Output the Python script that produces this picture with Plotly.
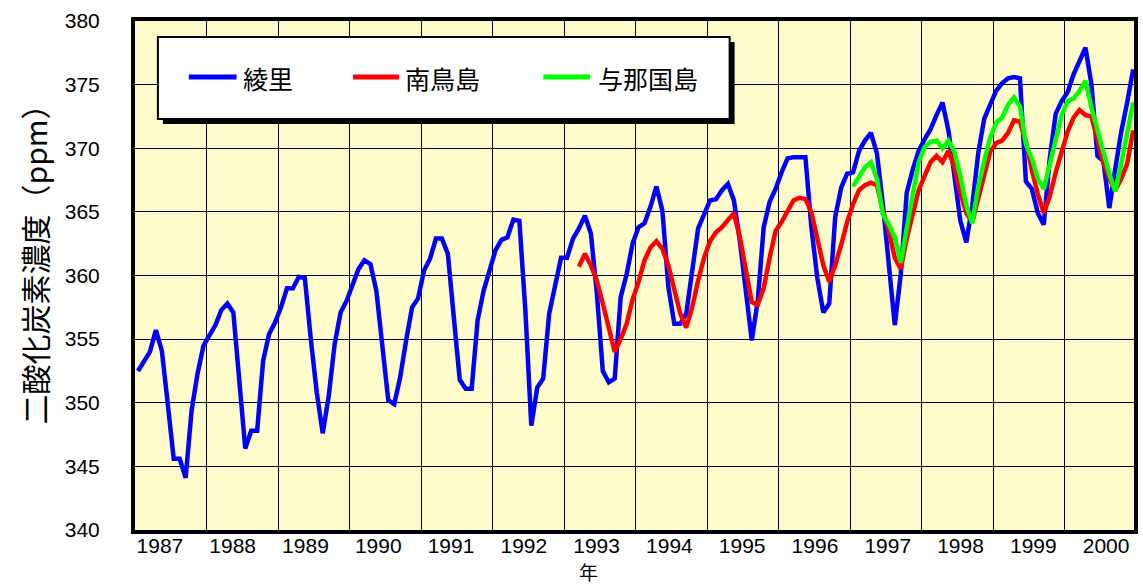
import plotly.graph_objects as go

# ---------------- data (monthly CO2, ppm) ----------------
years = list(range(1987, 2001))
year_labels = [str(y) for y in years]

ryori_start = (1987, 1)
ryori = [
    352.5, 353.2, 354.0, 355.7, 354.1, 349.9, 345.6, 345.6, 344.1, 349.4, 352.3, 354.5,  # 1987
    355.3, 356.1, 357.3, 357.8, 357.1, 351.8, 346.4, 347.8, 347.8, 353.3, 355.4, 356.3,  # 1988
    357.5, 359.0, 359.0, 359.9, 359.8, 355.0, 350.8, 347.6, 350.5, 354.6, 357.1, 358.0,  # 1989
    359.3, 360.5, 361.2, 360.9, 358.8, 354.6, 350.2, 349.9, 352.0, 354.9, 357.5, 358.2,  # 1990
    360.4, 361.3, 362.9, 362.9, 361.7, 356.7, 351.8, 351.1, 351.1, 356.5, 358.8, 360.4,  # 1991
    362.0, 362.8, 363.0, 364.4, 364.3, 357.3, 348.2, 351.2, 351.9, 357.0, 359.3, 361.4,  # 1992
    361.4, 362.9, 363.7, 364.7, 363.3, 358.6, 352.5, 351.6, 351.9, 358.3, 360.1, 362.5,  # 1993
    363.8, 364.1, 365.4, 367.0, 365.1, 359.1, 356.2, 356.2, 357.0, 360.4, 363.7, 364.8,  # 1994
    365.9, 366.0, 366.7, 367.2, 365.9, 362.7, 358.6, 354.9, 358.0, 363.8, 365.8, 366.8,  # 1995
    368.1, 369.2, 369.3, 369.3, 369.3, 363.8, 359.8, 357.1, 357.8, 364.6, 366.9, 368.0,  # 1996
    368.1, 369.8, 370.6, 371.2, 369.6, 365.6, 361.2, 356.1, 360.1, 366.5, 368.3, 369.8,  # 1997
    370.7, 371.5, 372.6, 373.6, 371.4, 367.9, 364.3, 362.6, 365.5, 369.6, 372.3, 373.4,  # 1998
    374.5, 375.1, 375.5, 375.6, 375.5, 367.4, 366.8, 364.9, 364.0, 369.2, 372.7, 373.7,  # 1999
    374.4, 375.8, 376.8, 377.9, 375.0, 369.4, 369.0, 365.3, 368.4, 371.3, 373.6, 376.2,  # 2000
]

minamitori_start = (1993, 3)
minamitori = [
    360.7, 361.7, 360.8, 359.6, 357.8, 355.8, 354.0, 355.0, 356.2, 358.1,  # 1993 Mar-Dec
    359.5, 361.2, 362.2, 362.7, 362.1, 360.8, 358.9, 357.0, 355.9, 357.5, 359.6, 361.4,  # 1994
    362.7, 363.4, 363.8, 364.3, 364.9, 363.0, 360.5, 357.9, 357.7, 359.0, 361.4, 363.5,  # 1995
    364.2, 365.1, 365.9, 366.1, 366.0, 365.0, 363.0, 360.8, 359.5, 360.8, 362.4, 364.2,  # 1996
    365.6, 366.7, 367.1, 367.3, 367.1, 365.1, 363.5, 361.4, 360.5, 362.9, 364.8, 366.7,  # 1997
    367.8, 368.9, 369.4, 368.9, 369.8, 368.5, 366.5, 364.9, 364.2, 366.0, 368.1, 369.7,  # 1998
    370.4, 370.6, 371.2, 372.2, 372.1, 370.5, 368.3, 366.4, 364.9, 366.2, 368.1, 369.8,  # 1999
    371.3, 372.4, 373.0, 372.6, 372.5, 370.7, 368.9, 367.6, 366.7, 367.6, 368.8, 371.4,  # 2000
]

yonaguni_start = (1997, 1)
yonaguni = [
    367.0, 367.7, 368.5, 368.9, 367.6, 364.8, 364.0, 363.0, 361.0, 363.7, 366.5, 368.9,  # 1997
    370.1, 370.5, 370.6, 370.0, 370.6, 369.7, 367.8, 365.5, 364.1, 367.0, 369.0, 370.8,  # 1998
    372.0, 372.4, 373.4, 374.0, 373.3, 370.3, 369.2, 367.6, 366.8, 368.8, 370.8, 372.6,  # 1999
    373.7, 373.9, 374.5, 375.3, 373.2, 371.3, 369.7, 368.0, 366.6, 368.8, 371.0, 373.6,  # 2000
]

series = [
    ("綾里", ryori_start, ryori, "#0000FF"),
    ("南鳥島", minamitori_start, minamitori, "#FF0000"),
    ("与那国島", yonaguni_start, yonaguni, "#00FF00"),
]


def month_x(start, n):
    y0, m0 = start
    return [y0 + (m0 - 1 + i + 0.5) / 12.0 for i in range(n)]


# ---------------- geometry helpers (pixel -> paper) ----------------
W, H = 1143, 587
L, R, T, B = 135, 5, 21, 57
PW, PH = W - L - R, H - T - B


def px(x):
    return (x - L) / PW


def py(y):
    return (H - B - y) / PH


CJK = "Noto Sans CJK JP, Noto Sans CJK SC, sans-serif"

fig = go.Figure()
for name, start, vals, color in series:
    fig.add_trace(go.Scatter(
        x=month_x(start, len(vals)), y=vals, mode="lines", name=name,
        line=dict(color=color, width=4.5), showlegend=False,
    ))

# dummy trace so that the label axis is drawn
fig.add_trace(go.Scatter(x=[], y=[], xaxis="x2", showlegend=False))

fig.update_layout(
    width=W, height=H,
    margin=dict(l=L, r=R, t=T, b=B),
    paper_bgcolor="white",
    plot_bgcolor="#FFFCCB",
    xaxis=dict(
        range=[1987, 2000.97], tickmode="array", tickvals=years[1:],
        showticklabels=False, ticks="", showgrid=True, gridcolor="#000000", gridwidth=1,
        showline=True, linecolor="#000000", linewidth=4, mirror=True, zeroline=False,
    ),
    xaxis2=dict(
        overlaying="x", anchor="y", side="bottom",
        range=[1986.658, 2000.383], tickmode="array", tickvals=years, ticktext=year_labels,
        showgrid=False, zeroline=False, showline=False, ticks="",
        tickfont=dict(family="Liberation Sans, Arial, sans-serif", size=21, color="#000000"),
        ticklabelstandoff=1,
    ),
    yaxis=dict(
        range=[340, 380], tickmode="linear", tick0=340, dtick=5,
        showgrid=True, gridcolor="#000000", gridwidth=1,
        showline=True, linecolor="#000000", linewidth=4, mirror=True, zeroline=False,
        ticks="", tickfont=dict(family="Liberation Sans, Arial, sans-serif", size=21, color="#000000"),
        ticklabelstandoff=27,
    ),
)

shapes = []
annos = []
# legend shadow + box
shapes.append(dict(type="rect", xref="paper", yref="paper", layer="above",
                   x0=px(163), x1=px(737), y0=py(124), y1=py(42),
                   fillcolor="#000000", line=dict(width=0)))
shapes.append(dict(type="rect", xref="paper", yref="paper", layer="above",
                   x0=px(158), x1=px(732), y0=py(119), y1=py(37),
                   fillcolor="#FFFFFF", line=dict(color="#000000", width=2)))
legend_pos = [(189, 237, 241), (354, 400, 404), (545, 592, 598)]
for (name, _s, _v, color), (lx0, lx1, tx) in zip(series, legend_pos):
    shapes.append(dict(type="line", xref="paper", yref="paper", layer="above",
                       x0=px(lx0), x1=px(lx1), y0=py(77), y1=py(77),
                       line=dict(color=color, width=5)))
    annos.append(dict(text=name, xref="paper", yref="paper", x=px(tx), y=py(78),
                      xanchor="left", yanchor="middle", showarrow=False,
                      font=dict(family=CJK, size=25, color="#000000")))

# axis titles
annos.append(dict(text="二酸化炭素濃度（ppm）", xref="paper", yref="paper",
                  x=px(34), y=py(257), xanchor="center", yanchor="middle",
                  textangle=-90, showarrow=False,
                  font=dict(family=CJK, size=30, color="#000000")))
annos.append(dict(text="年", xref="paper", yref="paper",
                  x=px(590), y=py(586), xanchor="center", yanchor="bottom",
                  borderpad=0, showarrow=False,
                  font=dict(family=CJK, size=19, color="#000000")))

fig.update_layout(shapes=shapes, annotations=annos)
fig.write_html("out.html", post_script="document.body.style.margin='0';",
               config={"displayModeBar": False})
